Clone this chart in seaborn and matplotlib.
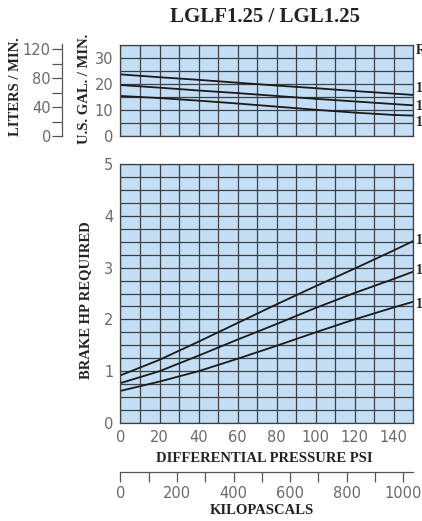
import numpy as np
import pandas as pd
import matplotlib
matplotlib.use("Agg")
import matplotlib.pyplot as plt
import seaborn as sns
from matplotlib.ticker import MultipleLocator

# ---------------- data ----------------
psi_flow = [0, 20, 40, 60, 80, 100, 120, 140, 150]
flow_high = [23.7, 22.6, 21.6, 20.5, 19.4, 18.4, 17.3, 16.3, 15.8]
flow_mid = [19.6, 18.6, 17.5, 16.5, 15.4, 14.3, 13.3, 12.3, 11.8]
flow_low = [15.4, 14.6, 13.6, 12.5, 11.3, 10.1, 9.0, 8.1, 7.85]
psi_hp = [0, 20, 40, 60, 80, 100, 120, 140, 150]
hp_high = [0.92, 1.22, 1.57, 1.93, 2.29, 2.64, 2.98, 3.33, 3.51]
hp_mid = [0.77, 1.00, 1.30, 1.61, 1.91, 2.22, 2.51, 2.78, 2.92]
hp_low = [0.62, 0.80, 1.00, 1.24, 1.49, 1.75, 2.00, 2.23, 2.34]
series = ["1750", "1450", "1150"]
flow_ticks = [0, 10, 20, 30]
hp_ticks = [0, 1, 2, 3, 4, 5]
psi_ticks = [0, 20, 40, 60, 80, 100, 120, 140]
lpm_ticks = [0, 40, 80, 120]
kpa_ticks = [0, 200, 400, 600, 800, 1000]
title = "LGLF1.25 / LGL1.25"

nf, nh = len(psi_flow), len(psi_hp)
flow_df = pd.DataFrame({
    "psi": psi_flow * 3,
    "val": flow_high + flow_mid + flow_low,
    "rpm": [series[0]] * nf + [series[1]] * nf + [series[2]] * nf,
})
hp_df = pd.DataFrame({
    "psi": psi_hp * 3,
    "val": hp_high + hp_mid + hp_low,
    "rpm": [series[0]] * nh + [series[1]] * nh + [series[2]] * nh,
})

# ---------------- style ----------------
sns.set_theme(style="white")
plt.rcParams["font.family"] = ["DejaVu Sans"]
W, H = 422, 521
fig = plt.figure(figsize=(W / 100, H / 100), dpi=100)


def rect(x0, y0, x1, y1):
    return [x0 / W, 1 - y1 / H, (x1 - x0) / W, (y1 - y0) / H]


bg = "#c4def5"
gridc = "#3c3f44"
tickc = "#6a6a6a"
axc = "#555555"
serif = ["Liberation Serif", "DejaVu Serif"]
txtc = "#222222"
pal = {s: "#1a1a1a" for s in series}


def style_panel(ax):
    ax.set_facecolor(bg)
    ax.grid(True, which="both", color=gridc, linewidth=0.9)
    ax.tick_params(which="both", length=0, labelsize=10.5, labelcolor=tickc, pad=5)
    ax.set_xlabel("")
    ax.set_ylabel("")
    for s in ax.spines.values():
        s.set_color(gridc)
        s.set_linewidth(0.9)


# top panel
ax1 = fig.add_axes(rect(120.5, 45, 413, 136))
sns.lineplot(data=flow_df, x="psi", y="val", hue="rpm", palette=pal,
             legend=False, ax=ax1, linewidth=1.3)
ax1.set_xlim(0, 150)
ax1.set_ylim(0, 35)
ax1.xaxis.set_major_locator(MultipleLocator(10))
ax1.set_xticklabels([])
ax1.set_yticks(flow_ticks)
ax1.yaxis.set_minor_locator(MultipleLocator(5))
style_panel(ax1)

# bottom panel
ax2 = fig.add_axes(rect(120.5, 164, 413, 423))
sns.lineplot(data=hp_df, x="psi", y="val", hue="rpm", palette=pal,
             legend=False, ax=ax2, linewidth=1.3)
ax2.set_xlim(0, 150)
ax2.set_ylim(0, 5)
ax2.set_xticks(psi_ticks)
ax2.xaxis.set_minor_locator(MultipleLocator(10))
ax2.set_yticks(hp_ticks)
ax2.yaxis.set_minor_locator(MultipleLocator(0.25))
style_panel(ax2)

# liters/min axis
ax3 = fig.add_axes(rect(62, 45, 62.1, 136))
ax3.set_ylim(0, 126)
ax3.set_facecolor("none")
for k in ["top", "right", "bottom"]:
    ax3.spines[k].set_visible(False)
ax3.spines["left"].set_visible(True)
ax3.spines["left"].set_bounds(0, 127)
ax3.spines["left"].set_color(axc)
ax3.spines["left"].set_linewidth(0.9)
ax3.set_xticks([])
ax3.set_yticks(lpm_ticks)
ax3.yaxis.set_minor_locator(MultipleLocator(20))
ax3.tick_params(axis="y", which="both", left=True, direction="out", length=7,
                width=0.9, color=axc, labelsize=10.5, labelcolor=tickc, pad=1)

# kilopascals axis
ax4 = fig.add_axes(rect(120.5, 470, 413, 472))
ax4.set_xlim(0, 150 * 6.895)
ax4.set_facecolor("none")
for k in ["top", "right", "left"]:
    ax4.spines[k].set_visible(False)
ax4.spines["bottom"].set_visible(True)
ax4.spines["bottom"].set_color(axc)
ax4.spines["bottom"].set_linewidth(0.9)
ax4.set_yticks([])
ax4.set_xticks(kpa_ticks)
ax4.xaxis.set_minor_locator(MultipleLocator(100))
ax4.tick_params(axis="x", which="both", bottom=True, direction="out", length=7,
                width=0.9, color=axc, labelsize=10.5, labelcolor=tickc, pad=3)

# texts
fig.text(265 / W, 1 - 17 / H, title, ha="center", va="center", fontsize=15,
         fontweight="bold", family=serif, color=txtc)
fig.text(264 / W, 1 - 458 / H, "DIFFERENTIAL PRESSURE PSI", ha="center", va="center",
         fontsize=10.5, fontweight="bold", family=serif, color=txtc)
fig.text(262 / W, 1 - 510 / H, "KILOPASCALS", ha="center", va="center",
         fontsize=10.5, fontweight="bold", family=serif, color=txtc)
fig.text(16 / W, 1 - 87 / H, "LITERS / MIN.", ha="center", va="center", rotation=90,
         fontsize=10.5, fontweight="bold", family=serif, color=txtc)
fig.text(85 / W, 1 - 89 / H, "U.S. GAL. / MIN.", ha="center", va="center", rotation=90,
         fontsize=10.5, fontweight="bold", family=serif, color=txtc)
fig.text(86 / W, 1 - 300 / H, "BRAKE HP REQUIRED", ha="center", va="center", rotation=90,
         fontsize=10.5, fontweight="bold", family=serif, color=txtc)

# right-hand line labels (cut off at figure edge as in reference)
for y, t in [(50, "RPM"), (88, series[0]), (106, series[1]), (123, series[2]),
             (241, series[0]), (271, series[1]), (304, series[2])]:
    fig.text(416 / W, 1 - y / H, t, ha="left", va="center", fontsize=10,
             fontweight="bold", family=serif, color=txtc)

fig.savefig("out.png", dpi=100)
